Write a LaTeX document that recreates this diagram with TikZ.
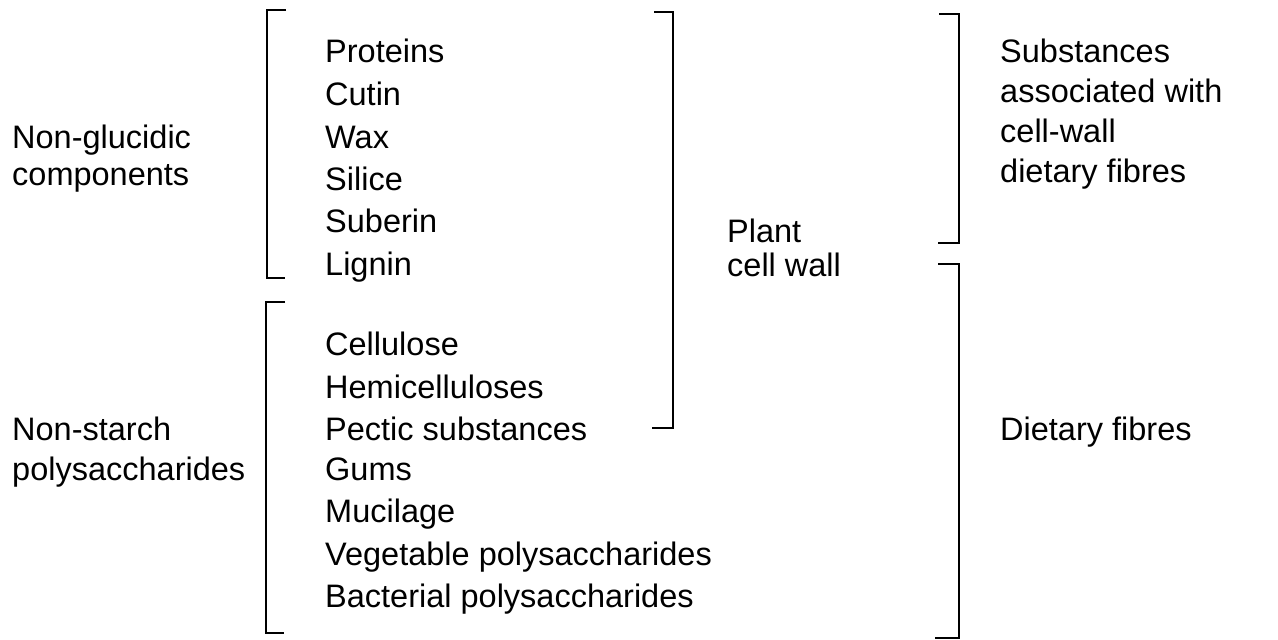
\documentclass[tikz,border=0pt]{standalone}
\usepackage{fontspec}
\setmainfont{Liberation Sans}
\begin{document}
\begin{tikzpicture}[x=1pt,y=-1pt,
  lbl/.style={anchor=west,inner sep=0pt,font=\fontsize{32.5}{38}\selectfont,text height=0.72em,text depth=0pt},
  brk/.style={line width=2.3pt,line join=miter}]
\useasboundingbox (0,0) rectangle (1278,640);
% list items
\node[lbl] (p1) at (325,59) {Proteins};
\node[lbl] (p2) at (325,102) {Cutin};
\node[lbl] (p3) at (325,145) {Wax};
\node[lbl] (p4) at (325,187) {Silice};
\node[lbl] (p5) at (325,229) {Suberin};
\node[lbl] (p6) at (325,272) {Lignin};
\node[lbl] (c1) at (325,352) {Cellulose};
\node[lbl] (c2) at (325,395) {Hemicelluloses};
\node[lbl] (c3) at (325,437) {Pectic substances};
\node[lbl] (c4) at (325,477) {Gums};
\node[lbl] (c5) at (325,519) {Mucilage};
\node[lbl] (c6) at (325,562) {Vegetable polysaccharides};
\node[lbl] (c7) at (325,604) {Bacterial polysaccharides};
% left labels
\node[lbl] (ng1) at (12,145) {Non-glucidic};
\node[lbl] (ng2) at (12,182) {components};
\node[lbl] (ns1) at (12,437) {Non-starch};
\node[lbl] (ns2) at (12,477) {polysaccharides};
% middle
\node[lbl] (pc1) at (727,239) {Plant};
\node[lbl] (pc2) at (727,273) {cell wall};
% right
\node[lbl] (s1) at (1000,59) {Substances};
\node[lbl] (s2) at (1000,99) {associated with};
\node[lbl] (s3) at (1000,139) {cell-wall};
\node[lbl] (s4) at (1000,179) {dietary fibres};
\node[lbl] (df) at (1000,437) {Dietary fibres};
% brackets
\draw[brk] (286,10) -- (267,10) -- (267,278) -- (285,278);
\draw[brk] (285,302) -- (266,302) -- (266,633) -- (284,633);
\draw[brk] (654,12) -- (673,12) -- (673,428) -- (652,428);
\draw[brk] (939,14) -- (959,14) -- (959,243) -- (938,243);
\draw[brk] (938,264) -- (959,264) -- (959,638) -- (935,638);
\end{tikzpicture}
\end{document}
